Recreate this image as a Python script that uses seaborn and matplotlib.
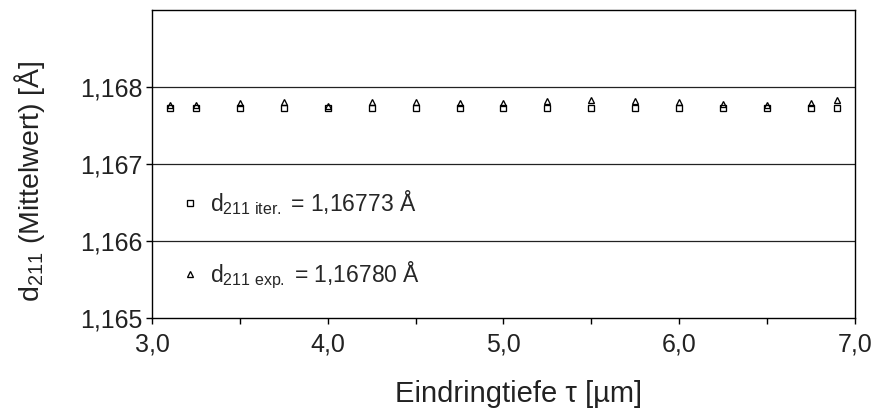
import matplotlib
matplotlib.use("Agg")
import matplotlib.pyplot as plt
import seaborn as sns
import pandas as pd

# penetration depth tau [µm]
depth = [3.1, 3.25, 3.5, 3.75, 4.0, 4.25, 4.5, 4.75, 5.0, 5.25, 5.5, 5.75, 6.0, 6.25, 6.5, 6.75, 6.9]
# mean d211 lattice spacing [Å]
d_iter = [1.16773] * 17
d_exp = [1.16777, 1.16777, 1.16779, 1.16780, 1.16775, 1.16780, 1.16781, 1.16779, 1.16779,
         1.16782, 1.16783, 1.16782, 1.16781, 1.16778, 1.16776, 1.16779, 1.16783]

label_iter = "d$_{211\\ iter.}$ = 1,16773 Å"
label_exp = "d$_{211\\ exp.}$ = 1,16780 Å"

x_ticks = [3.0, 4.0, 5.0, 6.0, 7.0]
x_tick_labels = ["3,0", "4,0", "5,0", "6,0", "7,0"]
y_ticks = [1.165, 1.166, 1.167, 1.168]
y_tick_labels = ["1,165", "1,166", "1,167", "1,168"]

sns.set_theme(style="ticks")
plt.rcParams["font.family"] = ["Liberation Sans", "DejaVu Sans"]
plt.rcParams["mathtext.fontset"] = "custom"
plt.rcParams["mathtext.rm"] = "Liberation Sans"
plt.rcParams["mathtext.it"] = "Liberation Sans"
plt.rcParams["mathtext.default"] = "regular"

fig = plt.figure(figsize=(8.79, 4.12), dpi=100)
ax = fig.add_axes([0.1729, 0.2282, 0.7998, 0.7475])

df = pd.DataFrame({"depth": depth, "iter": d_iter, "exp": d_exp})

sns.lineplot(data=df, x="depth", y="iter", ax=ax, estimator=None, linestyle="none",
             marker="s", markersize=4.4, markerfacecolor="none", markeredgecolor="black",
             markeredgewidth=0.95, color="black", label=label_iter)
sns.lineplot(data=df, x="depth", y="exp", ax=ax, estimator=None, linestyle="none",
             marker="^", markersize=4.6, markerfacecolor="none", markeredgecolor="black",
             markeredgewidth=0.95, color="black", label=label_exp)

ax.set_xlim(3.0, 7.0)
ax.set_ylim(1.165, 1.169)
ax.set_xticks(x_ticks)
ax.set_xticklabels(x_tick_labels)
ax.set_xticks([3.5, 4.5, 5.5, 6.5], minor=True)
ax.set_yticks(y_ticks)
ax.set_yticklabels(y_tick_labels)

for yv in y_ticks[1:]:
    ax.axhline(yv, color="#222222", linewidth=0.9, zorder=0)

for s in ax.spines.values():
    s.set_color("black")
    s.set_linewidth(1.0)

ax.tick_params(axis="both", which="both", direction="out", length=4.5, width=1.0,
               color="black", labelsize=18, labelcolor="#222222", pad=2)
ax.tick_params(axis="x", which="both", top=False, pad=6)

ax.set_xlabel("Eindringtiefe τ [µm]", fontsize=21, color="#222222")
ax.set_ylabel("d$_{211}$ (Mittelwert) [Å]", fontsize=20.5, color="#222222")
ax.xaxis.set_label_coords(0.522, -0.203)
ax.yaxis.set_label_coords(-0.150, 0.445)

leg = ax.legend(loc="upper left", bbox_to_anchor=(0.008, 0.49), frameon=False,
                fontsize=16.5, labelspacing=1.87, handlelength=1.0, handletextpad=0.4)

fig.savefig("out.png", dpi=100)
